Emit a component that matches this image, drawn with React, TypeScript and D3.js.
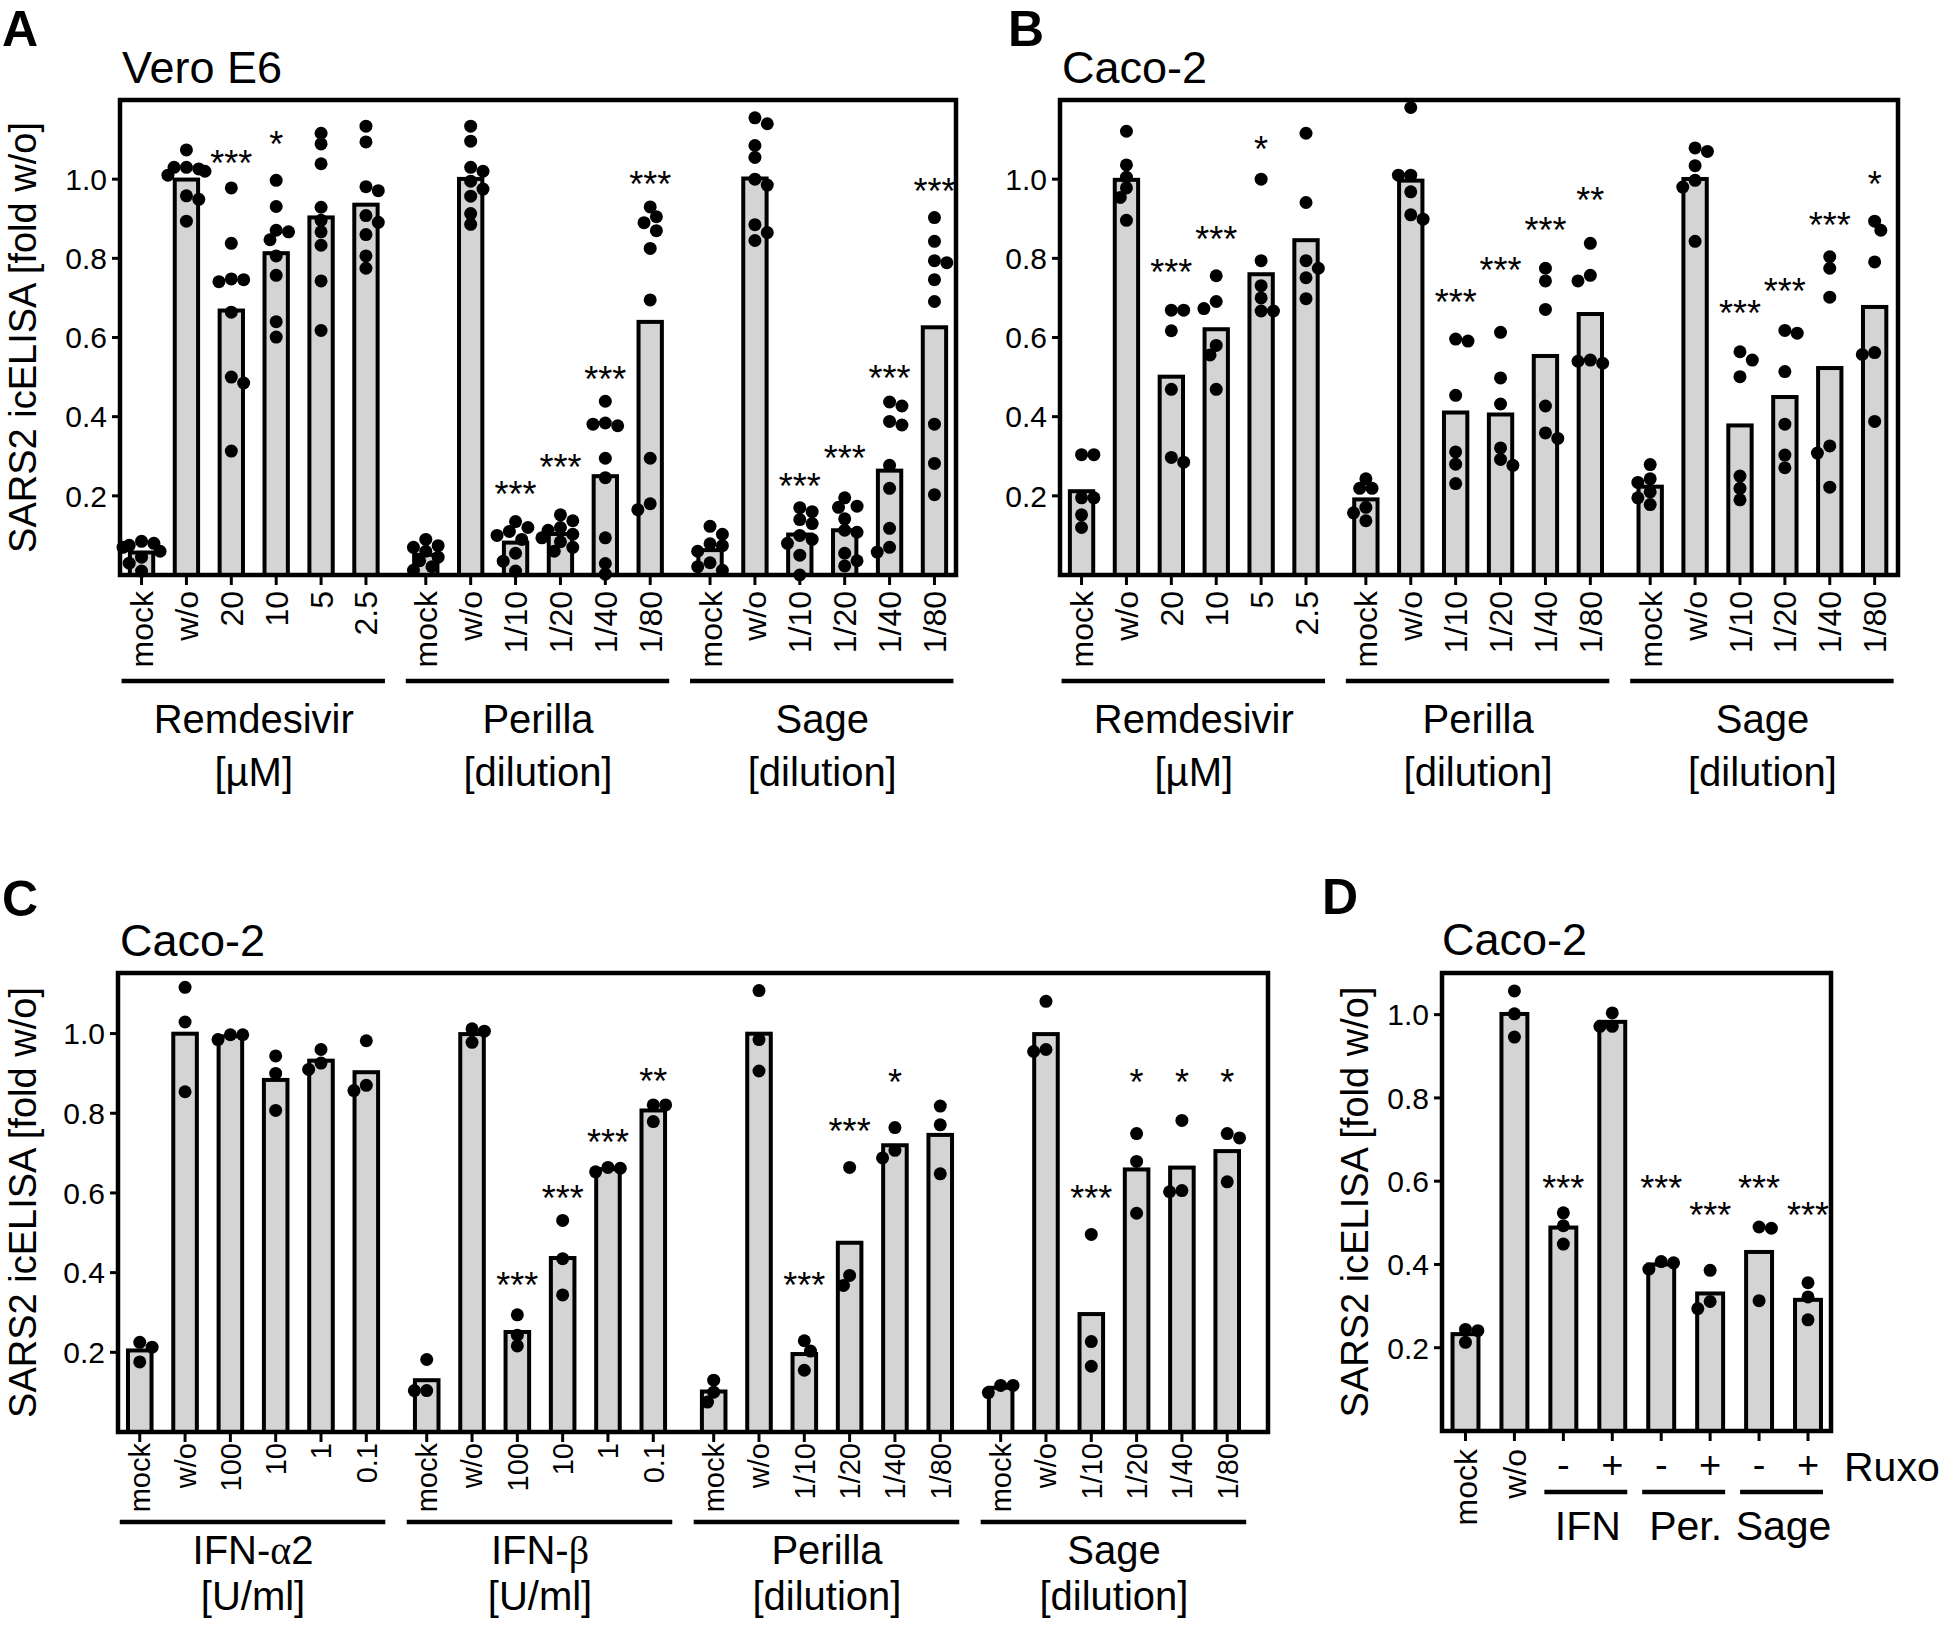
import * as d3 from 'd3';
import React from 'react';

// ---- tick labels
const remTicks = ["mock", "w/o", "20", "10", "5", "2.5"];
const dilTicks = ["mock", "w/o", "1/10", "1/20", "1/40", "1/80"];
const ifnTicks = ["mock", "w/o", "100", "10", "1", "0.1"];
const dTicks = ["mock", "w/o", "-", "+", "-", "+", "-", "+"];
const dPairs = ["IFN", "Per.", "Sage"];

// ---- panel A (Vero E6), single replicates per bar
const aRem = [
  [0.085, 0.08, 0.075, 0.07, 0.06, 0.045, 0.03, 0.01],
  [1.074, 1.026, 1.03, 1.03, 1.02, 1.01, 0.958, 0.949, 0.894],
  [0.978, 0.838, 0.741, 0.746, 0.748, 0.664, 0.5, 0.485, 0.313],
  [0.997, 0.931, 0.867, 0.847, 0.871, 0.806, 0.757, 0.64, 0.601],
  [1.116, 1.089, 1.039, 0.929, 0.896, 0.867, 0.833, 0.743, 0.618],
  [1.134, 1.094, 0.981, 0.971, 0.908, 0.891, 0.86, 0.806, 0.775],
];
const aPer = [
  [0.09, 0.074, 0.07, 0.06, 0.045, 0.036, 0.021, 0.012],
  [1.134, 1.096, 1.03, 1.02, 0.995, 0.975, 0.957, 0.913, 0.886],
  [0.135, 0.12, 0.11, 0.1, 0.09, 0.055, 0.035, 0.01],
  [0.152, 0.137, 0.12, 0.113, 0.103, 0.094, 0.084, 0.07, 0.06],
  [0.439, 0.377, 0.381, 0.384, 0.295, 0.246, 0.094, 0.029, 0.002],
  [0.93, 0.905, 0.89, 0.87, 0.825, 0.695, 0.295, 0.18, 0.165],
];
const aSage = [
  [0.123, 0.103, 0.079, 0.074, 0.06, 0.031, 0.021, 0.012],
  [1.155, 1.14, 1.085, 1.055, 1.0, 0.985, 0.885, 0.865, 0.845],
  [0.17, 0.16, 0.14, 0.13, 0.1, 0.09, 0.08, 0.05, 0.0],
  [0.195, 0.174, 0.142, 0.171, 0.113, 0.108, 0.055, 0.036, 0.023],
  [0.437, 0.427, 0.388, 0.379, 0.277, 0.219, 0.118, 0.07, 0.058],
  [0.903, 0.843, 0.794, 0.789, 0.746, 0.691, 0.381, 0.282, 0.203],
];
const aRemStars = ["", "", "***", "*", "", ""];
const aRemStarAt = [null, null, 1.06, 1.108, null, null];
const aPerStars = ["", "", "***", "***", "***", "***"];
const aPerStarAt = [null, null, 0.224, 0.292, 0.516, 1.007];
const aSageStars = ["", "", "***", "***", "***", "***"];
const aSageStarAt = [null, null, 0.245, 0.316, 0.519, 0.99];

// ---- panel B (Caco-2)
const bRem = [
  [0.304, 0.304, 0.195, 0.195, 0.152, 0.12],
  [1.121, 1.036, 1.005, 0.978, 0.954, 0.896],
  [0.669, 0.669, 0.617, 0.469, 0.297, 0.285],
  [0.756, 0.691, 0.673, 0.58, 0.556, 0.469],
  [1.0, 0.794, 0.731, 0.7, 0.667, 0.667],
  [1.116, 0.941, 0.794, 0.775, 0.751, 0.698],
];
const bPer = [
  [0.243, 0.219, 0.219, 0.171, 0.157, 0.137],
  [1.181, 1.01, 1.01, 0.968, 0.91, 0.899],
  [0.591, 0.596, 0.454, 0.311, 0.28, 0.231],
  [0.613, 0.498, 0.432, 0.321, 0.292, 0.277],
  [0.743, 0.775, 0.671, 0.427, 0.359, 0.345],
  [0.838, 0.757, 0.743, 0.543, 0.54, 0.535],
];
const bSage = [
  [0.279, 0.243, 0.234, 0.21, 0.195, 0.178],
  [1.079, 1.07, 1.034, 0.997, 0.98, 0.843],
  [0.564, 0.543, 0.501, 0.25, 0.219, 0.19],
  [0.618, 0.611, 0.514, 0.381, 0.303, 0.271],
  [0.804, 0.775, 0.702, 0.326, 0.308, 0.222],
  [0.894, 0.871, 0.791, 0.562, 0.557, 0.388],
];
const bRemStars = ["", "", "***", "***", "*", ""];
const bRemStarAt = [null, null, 0.785, 0.869, 1.096, null];
const bPerStars = ["", "", "***", "***", "***", "**"];
const bPerStarAt = [null, null, 0.709, 0.791, 0.891, 0.968];
const bSageStars = ["", "", "***", "***", "***", "*"];
const bSageStarAt = [null, null, 0.683, 0.738, 0.905, 1.007];

// ---- panel C (Caco-2, IFN)
const cIfnA = [
  [0.225, 0.213, 0.176], [1.116, 1.029, 0.854], [0.997, 0.997, 0.985],
  [0.944, 0.9, 0.807], [0.96, 0.926, 0.91], [0.982, 0.87, 0.857],
];
const cIfnB = [
  [0.182, 0.104, 0.104], [1.012, 1.006, 0.978], [0.294, 0.243, 0.216],
  [0.531, 0.435, 0.344], [0.664, 0.662, 0.653], [0.821, 0.821, 0.779],
];
const cPer = [
  [0.13, 0.1, 0.075], [1.108, 0.985, 0.906], [0.229, 0.203, 0.155],
  [0.664, 0.393, 0.368], [0.764, 0.707, 0.688], [0.818, 0.771, 0.648],
];
const cSage = [
  [0.117, 0.117, 0.099], [1.081, 0.96, 0.955], [0.496, 0.227, 0.165],
  [0.749, 0.679, 0.549], [0.782, 0.606, 0.603], [0.749, 0.738, 0.628],
];
const noStars = ["", "", "", "", "", ""];
const noStarAt = [null, null, null, null, null, null];
const cIfnBStars = ["", "", "***", "***", "***", "**"];
const cIfnBStarAt = [null, null, 0.39, 0.608, 0.749, 0.901];
const cPerStars = ["", "", "***", "***", "*", ""];
const cPerStarAt = [null, null, 0.39, 0.776, 0.899, null];
const cSageStars = ["", "", "***", "*", "*", "*"];
const cSageStarAt = [null, null, 0.608, 0.899, 0.899, 0.899];

// ---- panel D (Caco-2, Ruxolitinib)
const dDots = [
  [0.244, 0.241, 0.213], [1.057, 1.002, 0.946], [0.524, 0.493, 0.449], [1.004, 0.972, 0.972],
  [0.407, 0.404, 0.389], [0.386, 0.311, 0.294], [0.49, 0.487, 0.313], [0.356, 0.322, 0.267],
];
const dStars = ["", "", "***", "", "***", "***", "***", "***"];
const dStarAt = [null, null, 0.603, null, 0.603, 0.539, 0.603, 0.539];

const yTicks = [0.2, 0.4, 0.6, 0.8, 1.0];

const FONT = "'Liberation Sans', Arial, Helvetica, sans-serif";
const BAR_FILL = "#d4d4d4";
const R = 6.5;

type Group = { ticks: string[]; dots: number[][]; stars: string[]; starAt: (number | null)[]; name: React.ReactNode; unit: string };

// simple deterministic beeswarm so dots at similar heights spread sideways
function swarm(values: number[], y: (v: number) => number) {
  const order = values.map((_, i) => i).sort((a, b) => values[b] - values[a]);
  const dx = new Array(values.length).fill(0);
  const placed: { x: number; y: number }[] = [];
  order.forEach((i, k) => {
    const py = y(values[i]);
    const sgn = k % 2 ? 1 : -1;
    const cands = [0, sgn, -sgn, 2 * sgn, -2 * sgn, 3 * sgn, -3 * sgn].map((c) => c * R * 0.95);
    let best = cands[cands.length - 1];
    for (const c of cands) {
      if (placed.every((p) => Math.hypot(p.x - c, p.y - py) >= R * 1.6)) { best = c; break; }
    }
    dx[i] = best;
    placed.push({ x: best, y: py });
  });
  return dx;
}

function Bars({ x, y, s, values, star, starAt, bw }) {
  const m = d3.mean(values) as number;
  const dx = swarm(values, y);
  return (
    <g>
      <rect x={x(s) - bw / 2} y={y(m)} width={bw} height={y(0) - y(m)} fill={BAR_FILL} stroke="#000" strokeWidth={4} />
      {values.map((v, i) => (
        <circle key={i} cx={x(s) + dx[i]} cy={y(v)} r={R} fill="#000" />
      ))}
      {star && starAt != null && (
        <text x={x(s)} y={y(starAt) + 21} textAnchor="middle" fontSize={36} fontFamily={FONT}>{star}</text>
      )}
    </g>
  );
}

function Frame({ left, right, top, bottom, y }) {
  return (
    <g>
      <rect x={left} y={top} width={right - left} height={bottom - top} fill="none" stroke="#000" strokeWidth={4.5} />
      {yTicks.map((t) => (
        <g key={t}>
          <line x1={left - 8} x2={left} y1={y(t)} y2={y(t)} stroke="#000" strokeWidth={3} />
          <text x={left - 13} y={y(t)} dy="0.36em" textAnchor="end" fontSize={30} fontFamily={FONT}>{d3.format(".1f")(t)}</text>
        </g>
      ))}
    </g>
  );
}

function YLabel({ x, y }) {
  return (
    <text transform={`translate(${x},${y}) rotate(-90)`} textAnchor="middle" fontSize={38} fontFamily={FONT}>
      SARS2 icELISA [fold w/o]
    </text>
  );
}

function GroupPanel({ left, right, top, bottom, yMax, padR, groups, tickFont, tickGap, lineY, l1Y, l2Y, title, letter, letterX, letterY, yLabelX }) {
  const gap = 1 / 3;
  const n = 6;
  const last = (groups.length - 1) * (n + gap) + (n - 1);
  const x = d3.scaleLinear().domain([-0.48, last + padR]).range([left, right]);
  const y = d3.scaleLinear().domain([0, yMax]).range([bottom, top]);
  const bw = (x(1) - x(0)) * 0.52;
  return (
    <g>
      <text x={letterX} y={letterY} fontSize={50} fontWeight="bold" fontFamily={FONT}>{letter}</text>
      <text x={left + 2} y={top - 17} fontSize={45} fontFamily={FONT}>{title}</text>
      {yLabelX != null && <YLabel x={yLabelX} y={(top + bottom) / 2} />}
      {groups.map((g: Group, gi: number) => {
        const s0 = gi * (n + gap);
        const s1 = s0 + n - 1;
        return (
          <g key={gi}>
            {g.dots.map((vals, j) => (
              <Bars key={j} x={x} y={y} s={s0 + j} values={vals} star={g.stars[j]} starAt={g.starAt[j]} bw={bw} />
            ))}
            {g.ticks.map((t, j) => (
              <g key={t + j}>
                <line x1={x(s0 + j)} x2={x(s0 + j)} y1={bottom} y2={bottom + 10} stroke="#000" strokeWidth={3} />
                <text transform={`translate(${x(s0 + j)},${bottom + tickGap}) rotate(-90)`} dy="0.36em" textAnchor="end" fontSize={tickFont} fontFamily={FONT}>{t}</text>
              </g>
            ))}
            <line x1={x(s0) - 20} x2={x(s1) + 19} y1={lineY} y2={lineY} stroke="#000" strokeWidth={4.5} />
            <text x={(x(s0) + x(s1)) / 2} y={l1Y} textAnchor="middle" fontSize={40} fontFamily={FONT}>{g.name}</text>
            <text x={(x(s0) + x(s1)) / 2} y={l2Y} textAnchor="middle" fontSize={40} fontFamily={FONT}>{g.unit}</text>
          </g>
        );
      })}
      <Frame left={left} right={right} top={top} bottom={bottom} y={y} />
    </g>
  );
}

function PanelD() {
  const left = 1442, right = 1831, top = 973, bottom = 1431;
  const x = d3.scaleLinear().domain([-0.48, dTicks.length - 1 + 0.47]).range([left, right]);
  const y = d3.scaleLinear().domain([0, 1.1]).range([bottom, top]);
  const bw = (x(1) - x(0)) * 0.53;
  return (
    <g>
      <text x={1322} y={914} fontSize={50} fontWeight="bold" fontFamily={FONT}>D</text>
      <text x={left} y={top - 18} fontSize={45} fontFamily={FONT}>Caco-2</text>
      <YLabel x={1368} y={(top + bottom) / 2} />
      {dDots.map((vals, j) => (
        <Bars key={j} x={x} y={y} s={j} values={vals} star={dStars[j]} starAt={dStarAt[j]} bw={bw} />
      ))}
      {dTicks.map((t, j) => (
        <g key={j}>
          <line x1={x(j)} x2={x(j)} y1={bottom} y2={bottom + 10} stroke="#000" strokeWidth={3} />
          {j < 2 ? (
            <text transform={`translate(${x(j)},${bottom + 18}) rotate(-90)`} dy="0.36em" textAnchor="end" fontSize={32} fontFamily={FONT}>{t}</text>
          ) : (
            <text x={x(j)} y={1478} textAnchor="middle" fontSize={38} fontFamily={FONT}>{t}</text>
          )}
        </g>
      ))}
      {dPairs.map((p, k) => {
        const a = x(2 + 2 * k), b = x(3 + 2 * k);
        return (
          <g key={p}>
            <line x1={a - 19} x2={b + 15} y1={1492} y2={1492} stroke="#000" strokeWidth={4.5} />
            <text x={(a + b) / 2} y={1540} textAnchor="middle" fontSize={41} fontFamily={FONT}>{p}</text>
          </g>
        );
      })}
      <text x={1844} y={1481} fontSize={41} fontFamily={FONT}>Ruxo</text>
      <Frame left={left} right={right} top={top} bottom={bottom} y={y} />
    </g>
  );
}

const greek = (s: string) => <tspan fontFamily="'Liberation Serif', 'DejaVu Serif', serif">{s}</tspan>;

export default function App() {
  const groupsA: Group[] = [
    { ticks: remTicks, dots: aRem, stars: aRemStars, starAt: aRemStarAt, name: "Remdesivir", unit: "[µM]" },
    { ticks: dilTicks, dots: aPer, stars: aPerStars, starAt: aPerStarAt, name: "Perilla", unit: "[dilution]" },
    { ticks: dilTicks, dots: aSage, stars: aSageStars, starAt: aSageStarAt, name: "Sage", unit: "[dilution]" },
  ];
  const groupsB: Group[] = [
    { ticks: remTicks, dots: bRem, stars: bRemStars, starAt: bRemStarAt, name: "Remdesivir", unit: "[µM]" },
    { ticks: dilTicks, dots: bPer, stars: bPerStars, starAt: bPerStarAt, name: "Perilla", unit: "[dilution]" },
    { ticks: dilTicks, dots: bSage, stars: bSageStars, starAt: bSageStarAt, name: "Sage", unit: "[dilution]" },
  ];
  const groupsC: Group[] = [
    { ticks: ifnTicks, dots: cIfnA, stars: noStars, starAt: noStarAt, name: <>IFN-{greek("α")}2</>, unit: "[U/ml]" },
    { ticks: ifnTicks, dots: cIfnB, stars: cIfnBStars, starAt: cIfnBStarAt, name: <>IFN-{greek("β")}</>, unit: "[U/ml]" },
    { ticks: dilTicks, dots: cPer, stars: cPerStars, starAt: cPerStarAt, name: "Perilla", unit: "[dilution]" },
    { ticks: dilTicks, dots: cSage, stars: cSageStars, starAt: cSageStarAt, name: "Sage", unit: "[dilution]" },
  ];
  return (
    <div style={{ position: 'absolute', left: 0, top: 0 }}>
      <svg width={1944} height={1640} style={{ display: 'block', background: '#fff' }}>
        <GroupPanel left={120} right={956} top={100} bottom={575} yMax={1.2} padR={0.48} groups={groupsA}
          tickFont={32} tickGap={16} lineY={681} l1Y={733} l2Y={786} title="Vero E6" letter="A" letterX={2} letterY={46} yLabelX={36} />
        <GroupPanel left={1060} right={1898} top={100} bottom={575} yMax={1.2} padR={0.52} groups={groupsB}
          tickFont={32} tickGap={16} lineY={681} l1Y={733} l2Y={786} title="Caco-2" letter="B" letterX={1008} letterY={46} yLabelX={null} />
        <GroupPanel left={118} right={1268} top={973} bottom={1432} yMax={1.152} padR={0.9} groups={groupsC}
          tickFont={29} tickGap={11} lineY={1522} l1Y={1564} l2Y={1610} title="Caco-2" letter="C" letterX={2} letterY={916} yLabelX={36} />
        <PanelD />
      </svg>
    </div>
  );
}
